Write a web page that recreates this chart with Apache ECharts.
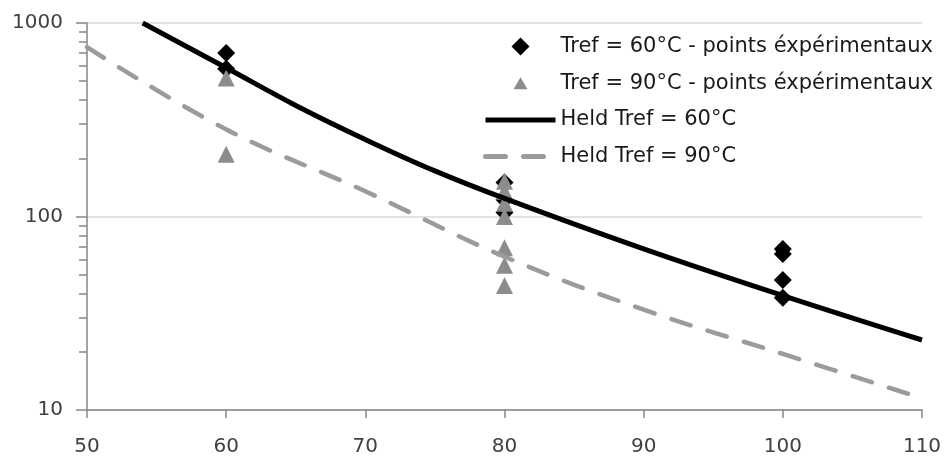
<!DOCTYPE html>
<html><head><meta charset="utf-8">
<script src="https://cdn.jsdelivr.net/npm/echarts@6/dist/echarts.min.js"></script>
<style>html,body{margin:0;padding:0;background:#fff}#c{width:948px;height:457px}</style>
</head><body><div id="c"></div>
<script>
const xTicks = [50, 60, 70, 80, 90, 100, 110];
const yTicks = [10, 100, 1000];
const yMinorTicks = [20,30,40,50,60,70,80,90,200,300,400,500,600,700,800,900];
const seriesNames = [
  'Tref = 60°C - points éxpérimentaux',
  'Tref = 90°C - points éxpérimentaux',
  'Held Tref = 60°C',
  'Held Tref = 90°C'
];
const exp60X = [60, 60, 80, 80, 80, 100, 100, 100, 100];
const exp60Y = [700, 580, 150, 122, 105, 68, 64, 47, 38];
const exp90X = [60, 60, 80, 80, 80, 80, 80, 80, 80];
const exp90Y = [520, 210, 152, 135, 117, 100, 69, 56, 44];
const held60X = [54, 60, 65, 70, 75, 80, 90, 100, 110];
const held60Y = [1000, 587, 375, 250, 172, 124, 68, 39, 23];
const held90X = [50, 60, 70, 80, 90, 100, 110];
const held90Y = [750, 282, 135, 62, 33, 19.5, 11.5];

const zip = (a, b) => a.map((v, i) => [v, b[i]]);
const FONT = 'DejaVu Sans';
const AXIS = '#868686';
const hidden = { color: 'rgba(0,0,0,0)', opacity: 0, borderWidth: 0 };
// legend icons: invisible corner points keep the symbol's proportions inside the 70x18 item box
const diamondIcon = 'path://M0,0M70,18M35,0L44,9L35,18L26,9Z';
const triangleIcon = 'path://M0,0M70,18M35,3L42,15L28,15Z';
const chart = echarts.init(document.getElementById('c'));
chart.setOption({
  animation: false,
  backgroundColor: '#ffffff',
  grid: { left: 87, right: 26, top: 23, bottom: 46, containLabel: false },
  legend: {
    orient: 'vertical', left: 478, top: 31,
    itemWidth: 70, itemHeight: 18, itemGap: 15.7,
    textStyle: { fontFamily: FONT, fontSize: 21, color: '#1a1a1a', lineHeight: 21 },
    data: [
      { name: seriesNames[0], icon: diamondIcon, itemStyle: { color: '#000000' } },
      { name: seriesNames[1], icon: triangleIcon, itemStyle: { color: '#8c8c8c' } },
      { name: seriesNames[2], itemStyle: hidden, lineStyle: { width: 5 } },
      { name: seriesNames[3], itemStyle: hidden, lineStyle: { width: 5 } }
    ]
  },
  xAxis: {
    type: 'value', min: xTicks[0], max: xTicks[xTicks.length - 1], interval: 10,
    axisLine: { lineStyle: { color: AXIS, width: 1.5 } },
    axisTick: { show: true, length: 8, inside: false, lineStyle: { color: AXIS, width: 1.5 } },
    axisLabel: { margin: 27, fontFamily: FONT, fontSize: 20, color: '#404040' },
    splitLine: { show: false }
  },
  yAxis: [{
    type: 'log', logBase: 10, min: yTicks[0], max: yTicks[yTicks.length - 1],
    axisLine: { show: true, lineStyle: { color: AXIS, width: 1.5 } },
    axisTick: { show: true, length: 11, lineStyle: { color: AXIS, width: 1.5 } },
    axisLabel: { margin: 24, fontFamily: FONT, fontSize: 20, color: '#404040', formatter: v => String(v) },
    splitLine: { show: true, lineStyle: { color: '#d9d9d9', width: 1.5 } }
  }, {
    type: 'log', logBase: 10, min: yTicks[0], max: yTicks[yTicks.length - 1], position: 'left',
    axisLine: { show: false },
    axisTick: { show: true, length: 8, customValues: yMinorTicks, lineStyle: { color: AXIS, width: 1.5 } },
    axisLabel: { show: false },
    splitLine: { show: false }
  }],
  series: [{
    name: seriesNames[0], type: 'scatter', symbol: 'diamond', symbolSize: 18,
    itemStyle: { color: '#000000', opacity: 1 }, data: zip(exp60X, exp60Y)
  }, {
    name: seriesNames[1], type: 'scatter', symbol: 'triangle', symbolSize: 17,
    itemStyle: { color: '#8c8c8c', opacity: 1 }, data: zip(exp90X, exp90Y)
  }, {
    name: seriesNames[2], type: 'line', smooth: 0.4, symbol: 'none',
    lineStyle: { color: '#000000', width: 5 }, itemStyle: { color: '#000000' },
    data: zip(held60X, held60Y)
  }, {
    name: seriesNames[3], type: 'line', smooth: 0.4, symbol: 'none',
    lineStyle: { color: '#9b9b9b', width: 4.5, type: [20, 18], cap: 'round' }, itemStyle: { color: '#9b9b9b' },
    data: zip(held90X, held90Y)
  }]
});
</script>
</body></html>
